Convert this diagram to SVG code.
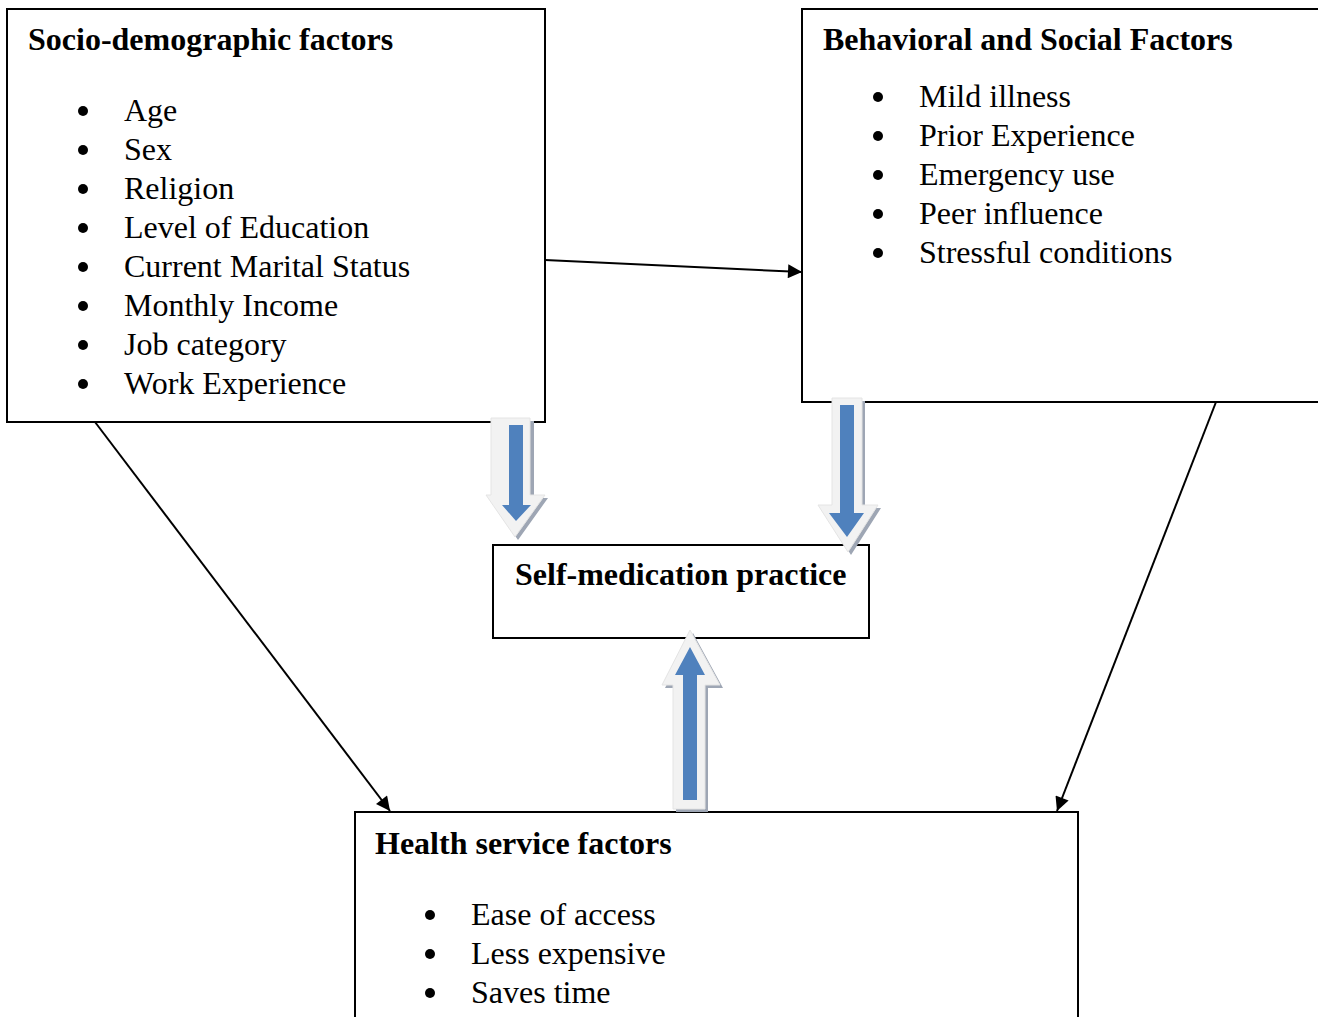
<svg xmlns="http://www.w3.org/2000/svg" width="1318" height="1017" viewBox="0 0 1318 1017">
<defs>
<style>
.box{fill:#fff;stroke:#000;stroke-width:2}
.t{font-family:"Liberation Serif","Times New Roman",serif;font-size:32px;fill:#000}
.b{font-family:"Liberation Serif","Times New Roman",serif;font-size:32px;font-weight:bold;fill:#000}
.conn{stroke:#000;stroke-width:2;fill:none;marker-end:url(#ah)}
.light{fill:#f2f2f2;stroke:#e4e4e4;stroke-width:1}
.shadow{fill:#9ea6b4}
.blue{fill:#4f81bd}
</style>
<marker id="ah" viewBox="0 0 10 10" refX="10" refY="5" markerWidth="8" markerHeight="7" markerUnits="strokeWidth" orient="auto">
<path d="M0,0 L10,5 L0,10 z" fill="#000"/>
</marker>
</defs>
<rect width="1318" height="1017" fill="#fff"/>

<g id="socio">
<rect class="box" x="7" y="9" width="538" height="413"/>
<text class="b" x="28" y="50">Socio-demographic factors</text>
<g fill="#000">
<circle cx="83" cy="111" r="5"/><circle cx="83" cy="150" r="5"/><circle cx="83" cy="189" r="5"/><circle cx="83" cy="228" r="5"/>
<circle cx="83" cy="267" r="5"/><circle cx="83" cy="306" r="5"/><circle cx="83" cy="345" r="5"/><circle cx="83" cy="384" r="5"/>
</g>
<text class="t" x="124" y="121">Age</text>
<text class="t" x="124" y="160">Sex</text>
<text class="t" x="124" y="199">Religion</text>
<text class="t" x="124" y="238">Level of Education</text>
<text class="t" x="124" y="277">Current Marital Status</text>
<text class="t" x="124" y="316">Monthly Income</text>
<text class="t" x="124" y="355">Job category</text>
<text class="t" x="124" y="394">Work Experience</text>
</g>

<g id="behavioral">
<rect class="box" x="802" y="9" width="530" height="393"/>
<text class="b" x="823" y="50">Behavioral and Social Factors</text>
<g fill="#000">
<circle cx="878" cy="97" r="5"/><circle cx="878" cy="136" r="5"/><circle cx="878" cy="175" r="5"/><circle cx="878" cy="214" r="5"/><circle cx="878" cy="253" r="5"/>
</g>
<text class="t" x="919" y="107">Mild illness</text>
<text class="t" x="919" y="146">Prior Experience</text>
<text class="t" x="919" y="185">Emergency use</text>
<text class="t" x="919" y="224">Peer influence</text>
<text class="t" x="919" y="263">Stressful conditions</text>
</g>

<g id="selfmed">
<rect class="box" x="493" y="545" width="376" height="93"/>
<text class="b" x="515" y="585">Self-medication practice</text>
</g>

<g id="health">
<rect class="box" x="355" y="812" width="723" height="220"/>
<text class="b" x="375" y="854">Health service factors</text>
<g fill="#000">
<circle cx="430" cy="915" r="5"/><circle cx="430" cy="954" r="5"/><circle cx="430" cy="993" r="5"/>
</g>
<text class="t" x="471" y="925">Ease of access</text>
<text class="t" x="471" y="964">Less expensive</text>
<text class="t" x="471" y="1003">Saves time</text>
</g>

<g id="connectors">
<line class="conn" x1="545" y1="260" x2="802" y2="272"/>
<line class="conn" x1="95" y1="422" x2="390" y2="811"/>
<line class="conn" x1="1216" y1="402" x2="1057" y2="811"/>
</g>

<g id="block-arrows">
<g id="arrow-socio">
<polygon class="shadow" points="494,421 534,421 534,498 548,498 518,540 489,498 494,498"/>
<polygon class="light" points="491,418 530,418 530,495 545,495 515,537 486,495 491,495"/>
<polygon class="blue" points="509,425 523,425 523,505 531,505 516,521 502,505 509,505"/>
</g>
<g id="arrow-behav">
<polygon class="shadow" points="835,401 865,401 865,508 881,508 851,555 821,508 835,508"/>
<polygon class="light" points="832,398 862,398 862,505 878,505 848,552 818,505 832,505"/>
<polygon class="blue" points="840,405 854,405 854,513 864,513 847,537 829,513 840,513"/>
</g>
<g id="arrow-health">
<polygon class="shadow" points="693,633 723,688 708,688 708,812 676,812 676,688 665,688"/>
<polygon class="light" points="690,630 720,685 705,685 705,809 673,809 673,685 662,685"/>
<polygon class="blue" points="690,647 705,675 697,675 697,800 683,800 683,675 675,675"/>
</g>
</g>
</svg>
